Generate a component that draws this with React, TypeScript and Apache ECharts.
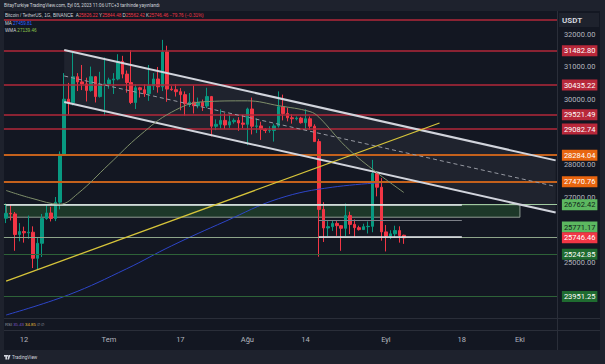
import React, { useEffect, useRef } from 'react';
import * as echarts from 'echarts';

// ---------- categories (daily) ----------
const FIRST_DAY = Date.UTC(2023, 5, 8);
const DAY_COUNT = 124;
const categories: string[] = Array.from({ length: DAY_COUNT }, (_, i) =>
  new Date(FIRST_DAY + i * 86400000).toISOString().slice(0, 10)
);

const timeTickDates = ['2023-06-12', '2023-07-01', '2023-07-17', '2023-08-01', '2023-08-14', '2023-09-01', '2023-09-18', '2023-10-01'];
const timeTickLabels = ['12', 'Tem', '17', 'Ağu', '14', 'Eyl', '18', 'Eki'];

const priceTickValues = [25000, 27000, 28000, 30000, 31000, 32000];

// ---------- candles: date, open, high, low, close ----------
const candles: [string, number, number, number, number][] = [
  ['2023-06-08', 26350, 26800, 26200, 26500],
  ['2023-06-09', 26500, 26780, 26280, 26480],
  ['2023-06-10', 26480, 26540, 25350, 25850],
  ['2023-06-11', 25850, 26200, 25640, 25940],
  ['2023-06-12', 25940, 26090, 25600, 25900],
  ['2023-06-13', 25900, 26430, 25720, 25920],
  ['2023-06-14', 25920, 26100, 24820, 25120],
  ['2023-06-15', 25120, 25750, 24760, 25580],
  ['2023-06-16', 25580, 26480, 25160, 26340],
  ['2023-06-17', 26340, 26780, 26300, 26510],
  ['2023-06-18', 26510, 26700, 26250, 26340],
  ['2023-06-19', 26340, 27000, 26260, 26840],
  ['2023-06-20', 26840, 28400, 26620, 28310],
  ['2023-06-21', 28310, 30800, 28260, 30000],
  ['2023-06-22', 30000, 30500, 29530, 29890],
  ['2023-06-23', 29890, 31430, 29810, 30690],
  ['2023-06-24', 30690, 30800, 30250, 30530],
  ['2023-06-25', 30530, 31050, 30280, 30470],
  ['2023-06-26', 30470, 30660, 29930, 30270],
  ['2023-06-27', 30270, 31000, 30230, 30690],
  ['2023-06-28', 30690, 30710, 29900, 30080],
  ['2023-06-29', 30080, 30840, 30050, 30450],
  ['2023-06-30', 30450, 31280, 29500, 30470],
  ['2023-07-01', 30470, 30660, 30320, 30590],
  ['2023-07-02', 30590, 30800, 30160, 30620],
  ['2023-07-03', 30620, 31380, 30580, 31160],
  ['2023-07-04', 31160, 31330, 30640, 30770],
  ['2023-07-05', 30770, 30880, 30200, 30510],
  ['2023-07-06', 30510, 31500, 29850, 29900],
  ['2023-07-07', 29900, 30450, 29700, 30350],
  ['2023-07-08', 30350, 30380, 30050, 30290],
  ['2023-07-09', 30290, 30450, 30070, 30170],
  ['2023-07-10', 30170, 31050, 29950, 30410],
  ['2023-07-11', 30410, 30800, 30280, 30620],
  ['2023-07-12', 30620, 30990, 30200, 30380],
  ['2023-07-13', 30380, 31820, 30250, 31450],
  ['2023-07-14', 31450, 31640, 29920, 30310],
  ['2023-07-15', 30310, 30400, 30260, 30290],
  ['2023-07-16', 30290, 30460, 30080, 30230],
  ['2023-07-17', 30230, 30340, 29660, 30140],
  ['2023-07-18', 30140, 30240, 29500, 29860],
  ['2023-07-19', 29860, 30190, 29760, 29910],
  ['2023-07-20', 29910, 30420, 29560, 29800],
  ['2023-07-21', 29800, 30050, 29720, 29900],
  ['2023-07-22', 29900, 29990, 29640, 29790],
  ['2023-07-23', 29790, 30350, 29730, 30080],
  ['2023-07-24', 30080, 30100, 28860, 29170],
  ['2023-07-25', 29170, 29380, 29050, 29230],
  ['2023-07-26', 29230, 29690, 29100, 29350],
  ['2023-07-27', 29350, 29570, 29090, 29210],
  ['2023-07-28', 29210, 29530, 29120, 29310],
  ['2023-07-29', 29310, 29410, 29250, 29350],
  ['2023-07-30', 29350, 29450, 29030, 29270],
  ['2023-07-31', 29270, 29520, 29110, 29230],
  ['2023-08-01', 29230, 29740, 28590, 29700],
  ['2023-08-02', 29700, 30050, 28920, 29170],
  ['2023-08-03', 29170, 29410, 28960, 29180],
  ['2023-08-04', 29180, 29310, 28750, 29080],
  ['2023-08-05', 29080, 29110, 28960, 29040],
  ['2023-08-06', 29040, 29170, 28970, 29040],
  ['2023-08-07', 29040, 29250, 28700, 29180],
  ['2023-08-08', 29180, 30240, 29130, 29770],
  ['2023-08-09', 29770, 30140, 29350, 29560],
  ['2023-08-10', 29560, 29740, 29320, 29430],
  ['2023-08-11', 29430, 29540, 29250, 29400],
  ['2023-08-12', 29400, 29470, 29350, 29420],
  ['2023-08-13', 29420, 29460, 29250, 29280],
  ['2023-08-14', 29280, 29690, 29080, 29400],
  ['2023-08-15', 29400, 29470, 29060, 29170],
  ['2023-08-16', 29170, 29230, 28700, 28700],
  ['2023-08-17', 28700, 28780, 25170, 26620],
  ['2023-08-18', 26620, 26840, 25620, 26050],
  ['2023-08-19', 26050, 26260, 25800, 26090],
  ['2023-08-20', 26090, 26290, 25960, 26190],
  ['2023-08-21', 26190, 26260, 25810, 26120],
  ['2023-08-22', 26120, 26140, 25350, 26040],
  ['2023-08-23', 26040, 26800, 25800, 26430],
  ['2023-08-24', 26430, 26550, 25860, 26160],
  ['2023-08-25', 26160, 26310, 25780, 26060],
  ['2023-08-26', 26060, 26120, 25970, 26000],
  ['2023-08-27', 26000, 26180, 25990, 26090],
  ['2023-08-28', 26090, 26250, 25880, 26100],
  ['2023-08-29', 26100, 28140, 25920, 27720],
  ['2023-08-30', 27720, 27760, 27020, 27300],
  ['2023-08-31', 27300, 27580, 25660, 25930],
  ['2023-09-01', 25930, 26140, 25330, 25800],
  ['2023-09-02', 25800, 25980, 25710, 25870],
  ['2023-09-03', 25870, 26120, 25780, 25970],
  ['2023-09-04', 25970, 26100, 25600, 25820],
  ['2023-09-05', 25826.22, 25844.48, 25562.42, 25746.46],
];

// ---------- indicators ----------
const maPoints: [string, number][] = [
  ['2023-06-08', 23380], ['2023-06-22', 24000], ['2023-07-05', 24800], ['2023-07-15', 25500],
  ['2023-07-27', 26250], ['2023-08-08', 26950], ['2023-08-20', 27300], ['2023-09-05', 27480],
];
const wmaPoints: [string, number][] = [
  ['2023-06-08', 27200], ['2023-06-14', 26950], ['2023-06-20', 26780], ['2023-06-24', 27100],
  ['2023-07-01', 28000], ['2023-07-08', 28900], ['2023-07-15', 29600], ['2023-07-22', 29920],
  ['2023-08-01', 29950], ['2023-08-08', 29800], ['2023-08-15', 29620], ['2023-08-17', 29450],
  ['2023-08-23', 28550], ['2023-08-29', 27850], ['2023-09-05', 27139.46],
];
const maLabel = '27459.81';
const rsiValues = ['35.43', '34.85'];

// ---------- horizontal levels ----------
const resistanceLevels = [31482.8, 30435.22, 29521.49, 29082.74];
const unlabeledLevels = [32450];
const pivotLevels = [28284.04, 27470.76];
const supportLevels = [26762.42, 25771.17];
const deepSupportLevels = [25242.85, 23951.25];
const lastPrice = 25746.46;

// ---------- drawings ----------
const channelUpper: [string, number][] = [['2023-06-21', 31510], ['2023-10-09', 28123]];
const channelLower: [string, number][] = [['2023-06-21', 29914], ['2023-10-09', 26522]];
const channelMid: [string, number][] = [['2023-06-21', 30712], ['2023-10-09', 27322]];
const yellowTrend: [string, number][] = [['2023-06-08', 24420], ['2023-09-13', 29270]];
const rangeTop: [string, number][] = [['2023-06-08', 26762.42], ['2023-09-18', 26762.42]];
const rangeMid: [string, number][] = [['2023-08-17', 26294], ['2023-09-18', 26294]];
const rangeLow: [string, number][] = [['2023-08-17', 25771.17], ['2023-09-18', 25771.17]];
const zoneBox: [string, number][] = [['2023-06-08', 26762.42], ['2023-10-01', 26380]];

const FONT = 'Roboto, "Liberation Sans", sans-serif';

function levelLine(v: number, lineColor: string, width: number, bg: string | null, fg: string, type: string = 'solid', offsetY = 0) {
  return {
    yAxis: v,
    itemStyle: { color: lineColor },
    lineStyle: { color: lineColor, width, type, opacity: 1 },
    label: bg
      ? {
          show: true,
          position: 'end',
          formatter: v.toFixed(2),
          color: fg,
          backgroundColor: bg,
          padding: [2, 2, 1, 2],
          fontSize: 7.5,
          fontFamily: FONT,
          distance: 4,
          offset: [0, offsetY],
        }
      : { show: false },
  };
}

function seg(pts: [string, number][], color: string, width: number, type: any = 'solid') {
  const ls = { color, width, type };
  return [
    { coord: pts[0], lineStyle: ls, label: { show: false } },
    { coord: pts[1], lineStyle: ls, label: { show: false } },
  ];
}

export default function App() {
  const ref = useRef<HTMLDivElement>(null);
  useEffect(() => {
    if (!ref.current) return;
    const chart = echarts.init(ref.current, undefined, { renderer: 'svg' });
    const last = candles[candles.length - 1];
    const chg = last[4] - last[1];
    const chgPct = (chg / last[1]) * 100;

    const markData: any[] = [];
    unlabeledLevels.forEach((v) => markData.push(levelLine(v, '#b3283a', 1.5, null, '#fff')));
    resistanceLevels.forEach((v) => markData.push(levelLine(v, '#b3283a', 1.5, '#b8283a', '#ffffff')));
    pivotLevels.forEach((v) => markData.push(levelLine(v, '#c4611c', 2, '#e8650f', '#ffffff')));
    supportLevels.forEach((v, i) =>
      markData.push(levelLine(v, i === 0 ? '#9fc99f' : '#8ea58a', 1, '#5cb860', '#10241a', 'solid', i === 1 ? -10 : 0))
    );
    deepSupportLevels.forEach((v) => markData.push(levelLine(v, '#2e6238', 1.2, '#1f6b30', '#ffffff')));
    markData.push(seg(rangeTop, '#dfe3ea', 1.5));
    markData.push(seg(rangeMid, '#7c8088', 1));
    markData.push(seg(rangeLow, '#e6e8ee', 1.5));
    markData.push(seg(channelUpper, '#d1d4dc', 2));
    markData.push(seg(channelLower, '#d1d4dc', 2));
    markData.push(seg(channelMid, '#9598a1', 1, [4, 3]));
    markData.push(seg(yellowTrend, '#d6c43a', 1.3));
    markData.push(levelLine(lastPrice, 'rgba(0,0,0,0)', 1, '#f23645', '#ffffff'));

    const channelPoly = [channelUpper[0], channelUpper[1], channelLower[1], channelLower[0]];

    const option: any = {
      animation: false,
      backgroundColor: '#1e222d',
      textStyle: { fontFamily: FONT },
      grid: { left: 3.9, right: 47.1, top: 1.4, height: 326, containLabel: false },
      xAxis: {
        type: 'category',
        data: categories,
        boundaryGap: true,
        axisLine: { show: false },
        axisTick: { show: false },
        splitLine: { show: false },
        axisLabel: {
          interval: (_i: number, v: string) => timeTickDates.includes(v),
          formatter: (v: string) => {
            const k = timeTickDates.indexOf(v);
            return k >= 0 ? timeTickLabels[k] : '';
          },
          color: '#b2b5be',
          fontSize: 7.5,
          fontFamily: FONT,
          margin: 8,
        },
      },
      yAxis: {
        type: 'value',
        position: 'right',
        min: 23000,
        max: 33000,
        interval: 1000,
        axisLine: { show: false },
        axisTick: { show: false },
        splitLine: { show: false },
        axisLabel: {
          formatter: (v: number) => (priceTickValues.includes(v) ? v.toFixed(2) : ''),
          color: '#b2b5be',
          fontSize: 7.5,
          fontFamily: FONT,
          margin: 6,
        },
      },
      graphic: [
        { type: 'rect', shape: { x: 4, y: 11, width: 596, height: 339 }, style: { fill: '#131722' }, z: -100, silent: true },
        { type: 'line', shape: { x1: 4, y1: 318.5, x2: 600, y2: 318.5 }, style: { stroke: '#2a2e39', lineWidth: 1 }, z: 50 },
        { type: 'line', shape: { x1: 4, y1: 330.5, x2: 600, y2: 330.5 }, style: { stroke: '#2a2e39', lineWidth: 1 }, z: 50 },
        { type: 'line', shape: { x1: 557.5, y1: 11, x2: 557.5, y2: 350 }, style: { stroke: '#2a2e39', lineWidth: 1 }, z: 50 },
        { type: 'rect', shape: { x: 559, y: 13, width: 40, height: 14 }, style: { fill: '#1e222d' }, z: 60 },
        { type: 'text', x: 562, y: 20, style: { text: 'USDT', fill: '#d1d4dc', fontSize: 8, fontWeight: 'bold', fontFamily: FONT, verticalAlign: 'middle' }, z: 61 },
        {
          type: 'text', x: 4, y: 5.5, z: 100,
          style: { text: 'BitayTurkiye TradingView.com, Eyl 05, 2023 11:06 UTC+3 tarihinde yayınlandı', fill: '#d1d4dc', fontSize: 4.6, fontFamily: FONT, verticalAlign: 'middle' },
        },
        {
          type: 'text', x: 5, y: 15.5, z: 100,
          style: {
            text:
              `{w|Bitcoin / TetherUS, 1G, BINANCE}  {w|A}{r|${last[1].toFixed(2)}} {w|Y}{r|${last[2].toFixed(2)}} {w|D}{r|${last[3].toFixed(2)}} {w|K}{r|${last[4].toFixed(2)}} {r|${chg.toFixed(2).replace('-', '−')} (${chgPct.toFixed(2).replace('-', '−')}%)}`,
            fontSize: 4.6, fontFamily: FONT, verticalAlign: 'middle',
            rich: { w: { fill: '#d1d4dc', fontSize: 4.6 }, r: { fill: '#f23645', fontSize: 4.6 } },
          },
        },
        {
          type: 'text', x: 5, y: 23, z: 100,
          style: { text: `{w|MA} {b|${maLabel}}`, fontSize: 4.6, fontFamily: FONT, verticalAlign: 'middle', rich: { w: { fill: '#d1d4dc', fontSize: 4.6 }, b: { fill: '#2962ff', fontSize: 4.6 } } },
        },
        {
          type: 'text', x: 5, y: 30.5, z: 100,
          style: { text: `{w|WMA} {g|${wmaPoints[wmaPoints.length - 1][1].toFixed(2)}}`, fontSize: 4.6, fontFamily: FONT, verticalAlign: 'middle', rich: { w: { fill: '#d1d4dc', fontSize: 4.6 }, g: { fill: '#8bc34a', fontSize: 4.6 } } },
        },
        {
          type: 'text', x: 5, y: 324.5, z: 100,
          style: { text: `{w|RSI} {p|${rsiValues[0]}} {y|${rsiValues[1]}} {w|∅ ∅}`, fontSize: 4.3, fontFamily: FONT, verticalAlign: 'middle', rich: { w: { fill: '#9598a1', fontSize: 4.3 }, p: { fill: '#7e57c2', fontSize: 4.3 }, y: { fill: '#f0c23b', fontSize: 4.3 } } },
        },
        { type: 'rect', shape: { x: 4, y: 355, width: 4, height: 1.6 }, style: { fill: '#d1d4dc' }, z: 100 },
        { type: 'rect', shape: { x: 5.4, y: 355, width: 1.6, height: 4.4 }, style: { fill: '#d1d4dc' }, z: 100 },
        { type: 'polygon', shape: { points: [[8.5, 355], [10.5, 355], [9, 359.4], [7.4, 359.4]] }, style: { fill: '#d1d4dc' }, z: 100 },
        { type: 'text', x: 12, y: 357.3, z: 100, style: { text: 'TradingView', fill: '#d1d4dc', fontSize: 4.6, fontFamily: FONT, verticalAlign: 'middle' } },
      ],
      series: [
        {
          type: 'custom',
          z: 1,
          silent: true,
          data: [[0, 28000]],
          renderItem: (_p: any, api: any) => {
            const pts = channelPoly.map(([d, v]) => api.coord([categories.indexOf(d), v]));
            return { type: 'polygon', shape: { points: pts }, style: { fill: 'rgba(200,204,214,0.07)' } };
          },
        },
        {
          type: 'candlestick',
          z: 3,
          barWidth: '68%',
          data: candles.map(([, o, h, l, c]) => [o, c, l, h]),
          itemStyle: { color: '#089981', color0: '#f23645', borderColor: '#089981', borderColor0: '#f23645', borderWidth: 1 },
          silent: true,
        },
        {
          type: 'line',
          z: 4,
          data: maPoints,
          smooth: 0.4,
          showSymbol: false,
          connectNulls: true,
          lineStyle: { color: '#2d45c8', width: 1 },
          silent: true,
        },
        {
          type: 'line',
          z: 5,
          data: wmaPoints,
          smooth: 0.4,
          showSymbol: false,
          connectNulls: true,
          lineStyle: { color: '#7f8f6a', width: 1 },
          silent: true,
          markArea: {
            silent: true,
            itemStyle: { color: 'rgba(56,142,60,0.28)', borderColor: '#8f9a92', borderWidth: 1 },
            label: { show: false },
            data: [[{ xAxis: zoneBox[0][0], yAxis: zoneBox[0][1] }, { xAxis: zoneBox[1][0], yAxis: zoneBox[1][1] }]],
          },
          markLine: {
            silent: true,
            symbol: ['none', 'none'],
            animation: false,
            data: markData,
          },
        },
      ],
    };
    chart.setOption(option);
    return () => chart.dispose();
  }, []);
  return <div ref={ref} style={{ position: 'absolute', left: 0, top: 0, width: 605, height: 364 }} />;
}
